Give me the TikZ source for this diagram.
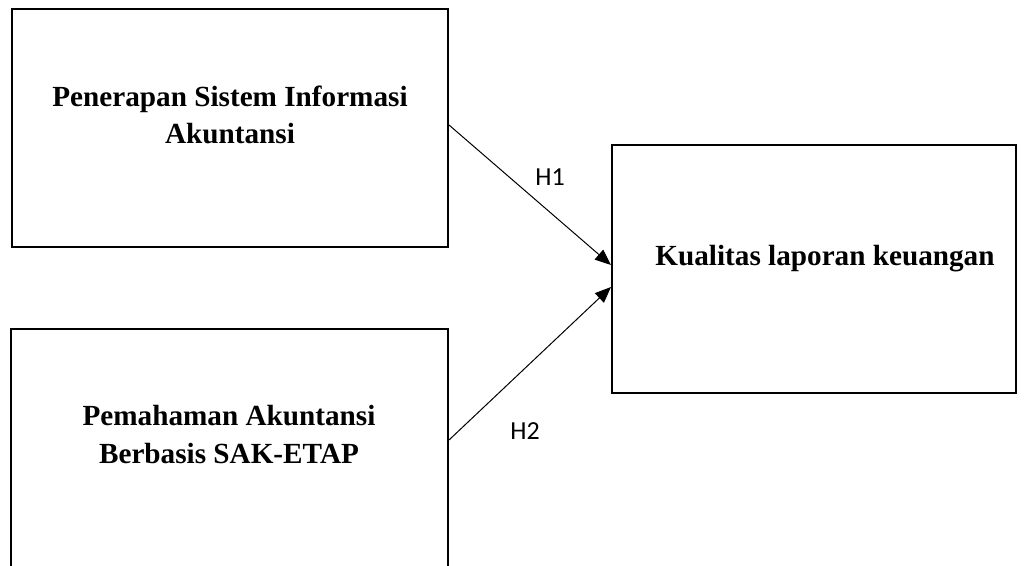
\documentclass[tikz,border=0pt]{standalone}
\usepackage{fontspec}
\setmainfont{Liberation Serif}
\newfontfamily\hfont{Carlito}
\usetikzlibrary{arrows.meta}
\begin{document}
\begin{tikzpicture}[x=1pt,y=-1pt,
  boxst/.style={draw,line width=2pt,minimum width=#1,inner sep=0pt,fill=none},
  lbl/.style={font=\fontsize{29.2}{37}\selectfont\bfseries,align=center,inner sep=0pt,anchor=base},
  hlab/.style={font=\hfont\fontsize{26}{30}\selectfont,inner sep=0pt,anchor=base},
  arr/.style={line width=1pt,-{Triangle[length=16pt,width=13pt]}}]
\useasboundingbox (0,0) rectangle (1025,565);
\clip (0,0) rectangle (1025,565);
\node[boxst=436pt,minimum height=238pt] (b1) at (230,128) {};
\node[boxst=437pt,minimum height=252pt] (b2) at (229.5,455) {};
\node[boxst=404pt,minimum height=248pt] (b3) at (814,269) {};
\node[lbl] (t1) at (230,106) {Penerapan Sistem Informasi};
\node[lbl] (t1b) at (230,143) {Akuntansi};
\node[lbl] (t2) at (229,425) {Pemahaman Akuntansi};
\node[lbl] (t2b) at (229,463) {Berbasis SAK-ETAP};
\node[lbl] (t3) at (825,265) {Kualitas laporan keuangan};
\node[hlab] (h1) at (550,185) {H1};
\node[hlab] (h2) at (525,439) {H2};
\draw[arr] ([yshift=3pt]b1.east) -- ([yshift=4pt]b3.west);
\draw[arr] ([yshift=15pt]b2.east) -- ([yshift=-18pt]b3.west);
\end{tikzpicture}
\end{document}
